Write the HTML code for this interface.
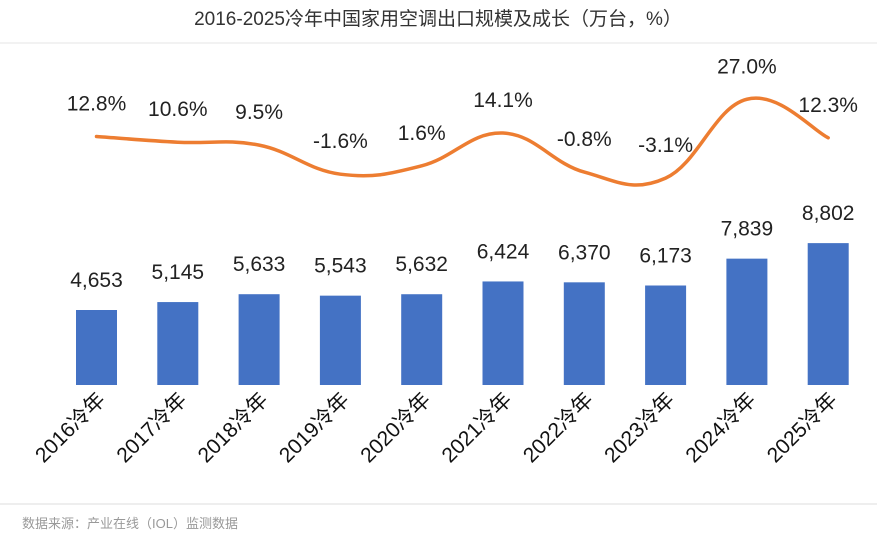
<!DOCTYPE html>
<html><head><meta charset="utf-8"><style>
body{margin:0;background:#fff;}
svg{display:block;font-family:"Liberation Sans","Noto Sans CJK SC",sans-serif;}
</style></head><body>
<svg id="chart" width="877" height="543">
<rect x="0" y="0" width="877" height="543" fill="#fff"/>
<text x="438" y="25" text-anchor="middle" font-size="19" fill="#333">2016-2025冷年中国家用空调出口规模及成长（万台，%）</text>
<line x1="0" y1="43" x2="877" y2="43" stroke="#eee" stroke-width="1.5"/>
<line x1="0" y1="504" x2="877" y2="504" stroke="#e8e8e8" stroke-width="1.5"/>
<text x="22" y="528" font-size="13" fill="#999">数据来源：产业在线（IOL）监测数据</text>
<g id="bars"></g><g id="line"></g><g id="labels"></g>
</svg>
<script>
const categories=["2016冷年","2017冷年","2018冷年","2019冷年","2020冷年","2021冷年","2022冷年","2023冷年","2024冷年","2025冷年"];
const volumes=[4653,5145,5633,5543,5632,6424,6370,6173,7839,8802];
const volumeLabels=["4,653","5,145","5,633","5,543","5,632","6,424","6,370","6,173","7,839","8,802"];
const growth=[12.8,10.6,9.5,-1.6,1.6,14.1,-0.8,-3.1,27.0,12.3];
const growthLabels=["12.8%","10.6%","9.5%","-1.6%","1.6%","14.1%","-0.8%","-3.1%","27.0%","12.3%"];
const NS="http://www.w3.org/2000/svg";
const xC=i=>96.5+i*81.3;
const yBar=v=>385-v*75/4653;
const yLine=v=>170-v*2.62;
const bars=document.getElementById('bars'),lineG=document.getElementById('line'),labels=document.getElementById('labels');
function mk(tag,attrs,parent){const e=document.createElementNS(NS,tag);for(const k in attrs)e.setAttribute(k,attrs[k]);parent.appendChild(e);return e;}
volumes.forEach((v,i)=>{
 const r=mk('rect',{x:xC(i)-20.5,y:yBar(v),width:41,height:385-yBar(v),fill:'#4472c4'},bars);
 
 
 const t=mk('text',{x:xC(i),y:yBar(v)-23,'text-anchor':'middle','font-size':'21',fill:'#222'},labels);
 t.textContent=volumeLabels[i];
 
 
 const c=mk('text',{transform:`translate(${xC(i)+10},${401}) rotate(-45)`,'text-anchor':'end','font-size':'21',fill:'#111'},labels);
 c.textContent=categories[i];
 
 
});
const pts=growth.map((g,i)=>[xC(i),yLine(g)]);
let d=`M${pts[0][0]},${pts[0][1]}`;
for(let i=0;i<pts.length-1;i++){
 const p0=pts[Math.max(i-1,0)],p1=pts[i],p2=pts[i+1],p3=pts[Math.min(i+2,pts.length-1)];
 const t=0.2;
 d+=` C${p1[0]+(p2[0]-p0[0])*t},${p1[1]+(p2[1]-p0[1])*t} ${p2[0]-(p3[0]-p1[0])*t},${p2[1]-(p3[1]-p1[1])*t} ${p2[0]},${p2[1]}`;
}
const path=mk('path',{d:d,fill:'none',stroke:'#ed7d31','stroke-width':'3.5','stroke-linecap':'round'},lineG);


growth.forEach((g,i)=>{
 const t=mk('text',{x:xC(i),y:yLine(g)-26,'text-anchor':'middle','font-size':'21',fill:'#222'},labels);
 t.textContent=growthLabels[i];
 
 
});
</script>
</body></html>
